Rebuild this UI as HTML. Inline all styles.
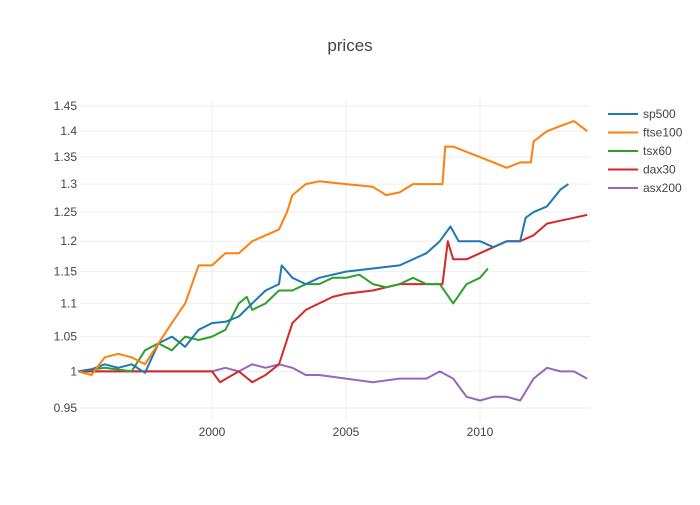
<!DOCTYPE html>
<html><head><meta charset="utf-8"><style>
body{margin:0;background:#fff;font-family:"Liberation Sans",sans-serif}
svg text{font-family:"Liberation Sans",sans-serif;fill:#444}
</style></head><body>
<svg id="chart" width="700" height="500">
<text x="350" y="51" text-anchor="middle" font-size="17">prices</text>
<g id="grid"></g><g id="series"></g><g id="axes"></g><g id="legend"></g>
</svg>
<script>
const yTicks=[0.95,1,1.05,1.1,1.15,1.2,1.25,1.3,1.35,1.4,1.45];
const yTickLabels=["0.95","1","1.05","1.1","1.15","1.2","1.25","1.3","1.35","1.4","1.45"];
const xTicks=[2000,2005,2010];
const seriesNames=["sp500","ftse100","tsx60","dax30","asx200"];
const seriesColors=["#1f77b4","#ff7f0e","#2ca02c","#d62728","#9467bd"];
const spDates=[1995,1995.5,1996,1996.5,1997,1997.5,1998,1998.5,1999,1999.5,2000,2000.5,2001,2001.5,2002,2002.5,2002.6,2003,2003.5,2004,2005,2006,2007,2008,2008.5,2008.9,2009.2,2010,2010.5,2011,2011.5,2011.7,2012,2012.5,2013,2013.3];
const spVals=[1.0,1.003,1.01,1.005,1.01,0.998,1.04,1.05,1.035,1.06,1.07,1.072,1.08,1.10,1.12,1.13,1.16,1.14,1.13,1.14,1.15,1.155,1.16,1.18,1.20,1.225,1.20,1.20,1.19,1.20,1.20,1.24,1.25,1.26,1.29,1.30];
const ftDates=[1995,1995.5,1996,1996.5,1997,1997.5,1998,1998.5,1999,1999.5,2000,2000.5,2001,2001.5,2002,2002.5,2002.8,2003,2003.5,2004,2005,2006,2006.5,2007,2007.5,2008,2008.6,2008.7,2009,2009.5,2010,2010.5,2011,2011.5,2011.9,2012,2012.5,2013,2013.5,2014];
const ftVals=[1.0,0.995,1.02,1.025,1.02,1.01,1.04,1.07,1.10,1.16,1.16,1.18,1.18,1.20,1.21,1.22,1.25,1.28,1.30,1.305,1.30,1.295,1.28,1.285,1.30,1.30,1.30,1.37,1.37,1.36,1.35,1.34,1.33,1.34,1.34,1.38,1.40,1.41,1.42,1.40];
const tsDates=[1995,1996,1997,1997.5,1998,1998.5,1999,1999.5,2000,2000.5,2001,2001.3,2001.5,2002,2002.5,2003,2003.5,2004,2004.5,2005,2005.5,2006,2006.5,2007,2007.5,2008,2008.5,2009,2009.5,2010,2010.3];
const tsVals=[1.0,1.005,1.0,1.03,1.04,1.03,1.05,1.045,1.05,1.06,1.10,1.11,1.09,1.10,1.12,1.12,1.13,1.13,1.14,1.14,1.145,1.13,1.125,1.13,1.14,1.13,1.13,1.10,1.13,1.14,1.155];
const daxDates=[1995,1999.5,2000,2000.3,2001,2001.5,2002,2002.5,2003,2003.5,2004,2004.5,2005,2006,2006.5,2007,2008,2008.6,2008.8,2009,2009.5,2010,2010.5,2011,2011.5,2012,2012.5,2013,2013.5,2014];
const daxVals=[1.0,1.0,1.0,0.985,1.0,0.985,0.995,1.01,1.07,1.09,1.10,1.11,1.115,1.12,1.125,1.13,1.13,1.13,1.20,1.17,1.17,1.18,1.19,1.20,1.20,1.21,1.23,1.235,1.24,1.245];
const asxDates=[1995,1999.5,2000,2000.5,2001,2001.5,2002,2002.5,2003,2003.5,2004,2005,2006,2007,2008,2008.5,2009,2009.5,2010,2010.5,2011,2011.5,2012,2012.5,2013,2013.5,2014];
const asxVals=[1.0,1.0,1.0,1.005,1.0,1.01,1.005,1.01,1.005,0.995,0.995,0.99,0.985,0.99,0.99,1.0,0.99,0.965,0.96,0.965,0.965,0.96,0.99,1.005,1.0,1.0,0.99];
const allDates=[spDates,ftDates,tsDates,daxDates,asxDates];
const allVals=[spVals,ftVals,tsVals,daxVals,asxVals];

const NS="http://www.w3.org/2000/svg";
const X0=80,X1=590,Y0=100,Y1=420;
function xScale(t){return 212+(t-2000)*26.8;}
function yScale(v){return 371.4-Math.log10(v)*1644;}
function mk(tag,attrs,parent){const e=document.createElementNS(NS,tag);for(const k in attrs)e.setAttribute(k,attrs[k]);parent.appendChild(e);return e;}
const grid=document.getElementById('grid'),axes=document.getElementById('axes'),ser=document.getElementById('series'),leg=document.getElementById('legend');
yTicks.forEach((v,i)=>{const y=yScale(v);
 const l=mk('line',{x1:X0,x2:X1,y1:y,y2:y,stroke:'#eee','stroke-width':1},grid);
 
 
 const t=mk('text',{x:X0-3,y:y+4,'text-anchor':'end','font-size':12},axes);t.textContent=yTickLabels[i];
 
 
});
xTicks.forEach(v=>{const x=xScale(v);
 const l=mk('line',{x1:x,x2:x,y1:Y0,y2:Y1,stroke:'#eee','stroke-width':1},grid);
 
 
 const t=mk('text',{x:x,y:Y1+16,'text-anchor':'middle','font-size':12},axes);t.textContent=String(v);
 
 
});
[4,3,2,0,1].forEach(i=>{
 const d=allDates[i].map((t,j)=>(j?'L':'M')+xScale(t).toFixed(1)+' '+yScale(allVals[i][j]).toFixed(1)).join(' ');
 const p=mk('path',{d:d,fill:'none',stroke:seriesColors[i],'stroke-width':2,'stroke-linejoin':'round'},ser);
 
 
});
seriesNames.forEach((n,i)=>{const y=114+i*18.5;
 const g=mk('g',{},leg);
 
 
 mk('line',{x1:608,x2:638,y1:y,y2:y,stroke:seriesColors[i],'stroke-width':2},g);
 const t=mk('text',{x:643,y:y+4,'font-size':12},g);t.textContent=n;
});
</script>
</body></html>
